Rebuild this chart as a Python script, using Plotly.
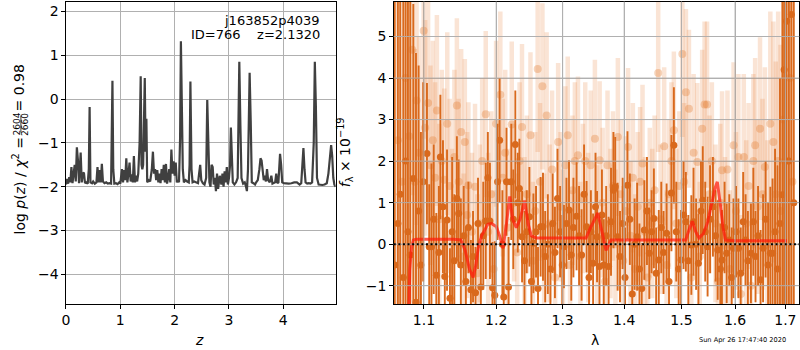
import math
import plotly.graph_objects as go

# ---------------- data: left panel, log p(z) ----------------
z_grid = [0.00, 0.02, 0.04, 0.06, 0.08, 0.10, 0.12, 0.14, 0.16, 0.18, 0.20, 0.22, 0.24, 0.27, 0.29,
          0.31, 0.33, 0.35, 0.37, 0.40, 0.42, 0.435, 0.45, 0.48, 0.50, 0.53, 0.56, 0.58, 0.60, 0.62,
          0.64, 0.66, 0.68, 0.71, 0.74, 0.77, 0.80, 0.83, 0.855, 0.87, 0.89, 0.92, 0.95, 0.98, 1.00,
          1.03, 1.05, 1.07, 1.09, 1.11, 1.13, 1.15, 1.17, 1.19, 1.21, 1.23, 1.25, 1.27, 1.29, 1.31,
          1.33, 1.355, 1.375, 1.39, 1.405, 1.42, 1.45, 1.465, 1.48, 1.495, 1.52, 1.55, 1.58, 1.60, 1.62,
          1.64, 1.66, 1.68, 1.70, 1.72, 1.74, 1.76, 1.78, 1.80, 1.82, 1.84, 1.86, 1.88, 1.90, 1.92,
          1.94, 1.96, 1.98, 2.00, 2.02, 2.04, 2.06, 2.08, 2.10, 2.115, 2.135, 2.15, 2.17, 2.20, 2.23,
          2.26, 2.275, 2.29, 2.31, 2.33, 2.36, 2.40, 2.43, 2.45, 2.47, 2.49, 2.52, 2.55, 2.58, 2.60,
          2.62, 2.64, 2.66, 2.68, 2.70, 2.72, 2.74, 2.76, 2.78, 2.80, 2.83, 2.86, 2.88, 2.90, 2.92,
          2.94, 2.96, 2.98, 3.00, 3.02, 3.035, 3.05, 3.07, 3.10, 3.13, 3.16, 3.19, 3.21, 3.23, 3.26,
          3.29, 3.31, 3.33, 3.35, 3.38, 3.40, 3.42, 3.45, 3.48, 3.50, 3.53, 3.56, 3.58, 3.60, 3.62,
          3.64, 3.66, 3.68, 3.70, 3.72, 3.75, 3.78, 3.80, 3.82, 3.85, 3.87, 3.89, 3.91, 3.94, 3.96,
          3.98, 4.01, 4.05, 4.10, 4.15, 4.20, 4.25, 4.30, 4.33, 4.355, 4.37, 4.39, 4.41, 4.44, 4.47,
          4.50, 4.53, 4.56, 4.58, 4.60, 4.62, 4.65, 4.68, 4.72, 4.76, 4.80, 4.83, 4.86, 4.88, 4.90,
          4.92, 4.94, 4.963]
log_pz = [-1.95, -1.82, -1.93, -1.78, -1.90, -1.55, -1.92, -1.75, -1.50, -1.88, -1.10, -1.40, -1.92, -1.22, -1.90,
          -1.70, -1.68, -1.92, -1.90, -1.93, -1.60, -0.18, -1.90, -1.92, -1.88, -1.93, -1.90, -1.55, -1.90, -1.62,
          -1.90, -1.48, -1.88, -1.92, -1.90, -1.93, -1.92, -1.93, 0.42, -1.60, -1.93, -1.92, -1.94, -1.90, -1.93,
          -1.60, -1.90, -1.62, -1.85, -1.35, -1.90, -1.70, -1.45, -1.88, -1.72, -1.90, -1.30, -1.90, -1.75, -1.88,
          -1.70, -1.00, 0.52, -1.50, -1.60, -1.50, 0.48, -1.20, -0.45, -1.90, -1.85, -1.88, -1.60, -1.20, -1.70,
          -1.60, -1.85, -1.62, -1.90, -1.70, -1.92, -1.60, -1.85, -1.50, -1.90, -1.48, -1.93, -1.80, -1.60, -1.90,
          -1.15, -1.70, -1.42, -1.75, -1.45, -1.90, -1.85, -1.90, -0.90, 1.32, -0.30, -1.60, -1.90, -1.85, -1.88,
          -1.90, -1.50, 0.40, -1.60, -1.90, -1.88, -1.90, -1.92, -1.70, -1.50, -1.85, -1.92, -1.95, -1.80, -0.02,
          -1.30, -1.90, -2.00, -1.50, -1.55, -1.95, -1.80, -2.10, -1.70, -2.05, -1.75, -1.95, -1.70, -2.00, -1.65,
          -1.90, -1.55, -1.95, -1.80, -1.50, -0.65, -1.30, -1.90, -1.95, -1.90, -1.80, 0.85, -0.60, -1.80, -1.93,
          -1.90, -1.98, -2.10, -1.60, 0.60, -0.50, -1.90, -1.92, -1.95, -1.90, -1.85, -1.60, -1.35, -1.40, -1.70,
          -1.85, -1.75, -1.88, -1.60, -1.85, -1.90, -1.75, -1.93, -1.92, -1.90, -1.70, -1.92, -1.90, -1.25, -1.50,
          -1.90, -1.92, -1.93, -1.93, -1.92, -1.90, -1.90, -1.95, -1.92, -1.50, -1.12, -1.60, -1.90, -1.93, -1.92,
          -1.93, -1.90, -1.00, 0.85, -0.20, -1.80, -1.95, -1.96, -1.96, -1.95, -1.92, -1.70, -1.20, -1.05, -1.30,
          -1.80, -1.95, -2.00]

# ---------------- data: right panel, spectrum ----------------
lam_dark = [1.062, 1.066, 1.069, 1.073, 1.076, 1.079, 1.082, 1.086, 1.0895, 1.093,
            1.096, 1.099, 1.104, 1.107, 1.110, 1.113, 1.1165, 1.120, 1.122, 1.1255,
            1.128, 1.131, 1.135, 1.138, 1.141, 1.1445, 1.147, 1.150, 1.154, 1.157,
            1.1605, 1.164, 1.167, 1.1705, 1.174, 1.178, 1.1815, 1.185, 1.188, 1.191,
            1.1947, 1.198, 1.202, 1.205, 1.209, 1.211, 1.215, 1.218, 1.222, 1.225,
            1.228, 1.2316, 1.234, 1.238, 1.2416, 1.245, 1.249, 1.252, 1.255, 1.259,
            1.262, 1.266, 1.2696, 1.273, 1.277, 1.281, 1.2845, 1.288, 1.292, 1.296,
            1.2995, 1.302, 1.306, 1.310, 1.3136, 1.317, 1.322, 1.326, 1.330, 1.334,
            1.338, 1.342, 1.345, 1.3486, 1.3525, 1.355, 1.359, 1.363, 1.366, 1.370,
            1.374, 1.378, 1.382, 1.385, 1.389, 1.393, 1.3975, 1.4015, 1.4056, 1.4096,
            1.4137, 1.4177, 1.422, 1.426, 1.430, 1.4345, 1.439, 1.443, 1.447, 1.451,
            1.455, 1.4596, 1.464, 1.468, 1.4734, 1.4777, 1.482, 1.4864, 1.4907, 1.495,
            1.4994, 1.5038, 1.508, 1.5125, 1.518, 1.522, 1.5267, 1.531, 1.5357, 1.539,
            1.5436, 1.548, 1.5526, 1.558, 1.563, 1.567, 1.572, 1.575, 1.580, 1.584,
            1.589, 1.5936, 1.597, 1.602, 1.6065, 1.611, 1.6158, 1.6205, 1.625, 1.631,
            1.6357, 1.640, 1.645, 1.650, 1.655, 1.660, 1.665, 1.6695, 1.674, 1.679,
            1.684, 1.689, 1.694, 1.6975, 1.7024, 1.7073, 1.7123, 1.7173]
flux_dark = [-0.5, 0.5, 1.2, -0.8, 2.0, 0.3, -0.26, 1.58, -1.4, 0.8,
             -0.5, 1.5, 2.18, -0.06, -0.06, 0.6, -0.75, -0.2, 2.1, 0.9,
             -0.78, 0.58, -1.3, 0.3, -0.4, 1.1, 0.74, -0.5, 0.2, -0.9,
             0.4, -1.1, -0.3, -1.17, 0.5, -1.03, 0.2, 0.56, 1.6, 0.56,
             -1.05, -1.23, 1.5, 2.5, 0.0, -1.27, 1.5, -1.03, 1.5, 0.6,
             2.4, 1.0, 1.34, 0.18, -0.4, 0.3, 0.66, -0.9, 0.02, 0.3,
             -1.07, 0.42, 0.42, -0.3, 0.0, -0.6, 0.5, -0.2, 1.1, 0.3,
             -0.5, -0.06, 0.5, 0.82, -0.26, 0.4, 0.67, 0.2, -0.26, 1.2,
             0.42, -0.8, 0.3, -0.46, 0.9, 0.18, -0.54, 0.7, -0.5, 0.2,
             -0.54, 0.54, 1.3, 1.38, 0.18, -0.3, 0.5, -0.8, 1.42, 0.6,
             -1.2, 0.0, 0.18, -0.6, -1.07, 0.34, 0.8, -0.22, 0.3, 0.62,
             -0.7, -0.38, 0.4, -0.2, 0.26, -0.9, 1.23, 2.38, 0.3, -0.6,
             -0.38, 0.7, 0.54, -0.4, -0.02, 0.54, 0.0, -0.46, 0.8, 1.06,
             0.3, -0.06, 0.6, 0.9, 0.2, -0.14, -0.6, -0.38, 0.4, -0.22,
             0.1, -0.8, -0.1, 0.3, -0.1, -0.7, 0.54, 0.1, -0.4, -0.22,
             0.54, -0.3, 0.2, -0.86, -0.1, 0.6, -0.5, -0.22, -0.22, 0.3,
             -0.6, 0.5, 1.19, 4.2, 5.37, 2.0, 5.53, 1.0]
err_dark = [9, 9, 8, 8, 8, 7, 7, 4.2, 6, 3.5,
            3.2, 2.4, 1.7, 1.5, 2.0, 1.8, 1.5, 1.6, 1.5, 1.6,
            1.4, 1.7, 1.2, 1.8, 1.6, 1.5, 1.3, 1.6, 1.2, 1.3,
            1.1, 1.2, 1.1, 1.1, 1.1, 1.1, 1.3, 1.4, 1.1, 1.4,
            1.1, 1.3, 1.4, 1.5, 1.3, 1.2, 1.3, 1.2, 1.4, 1.2,
            1.3, 1.2, 1.2, 1.1, 1.2, 1.0, 1.2, 1.1, 1.2, 1.1,
            1.0, 1.2, 1.3, 1.1, 1.2, 1.1, 1.2, 1.1, 1.2, 1.1,
            1.2, 1.0, 1.1, 1.2, 1.1, 1.2, 1.3, 1.2, 1.1, 1.2,
            1.1, 1.2, 1.0, 1.2, 1.3, 1.1, 1.2, 1.1, 1.1, 1.2,
            1.2, 1.3, 1.4, 1.2, 1.3, 1.1, 1.1, 1.2, 1.3, 1.1,
            1.2, 1.1, 1.3, 1.1, 1.1, 1.2, 1.3, 1.1, 1.0, 1.2,
            1.1, 1.2, 1.1, 1.0, 1.2, 1.1, 1.4, 1.4, 1.2, 1.2,
            1.2, 1.3, 1.2, 1.1, 1.2, 1.3, 1.1, 1.2, 1.2, 1.3,
            1.2, 1.2, 1.3, 1.2, 1.1, 1.2, 1.1, 1.2, 1.1, 1.2,
            1.1, 1.2, 1.2, 1.1, 1.2, 1.1, 1.2, 1.1, 1.2, 1.2,
            1.3, 1.1, 1.2, 1.2, 1.3, 1.4, 1.5, 1.6, 1.8, 2.0,
            2.5, 3.5, 5, 7, 8, 8, 9, 9]

lam_light = [1.066, 1.0713, 1.076, 1.0806, 1.0846, 1.088, 1.0903, 1.0935, 1.0996, 1.1016,
             1.1055, 1.1086, 1.1118, 1.1149, 1.1173, 1.1206, 1.1239, 1.1272, 1.1313, 1.1346,
             1.1378, 1.1411, 1.1445, 1.147, 1.1504, 1.1538, 1.1555, 1.1588, 1.1605, 1.1655,
             1.1698, 1.1731, 1.1765, 1.1799, 1.185, 1.1885, 1.1929, 1.1964, 1.1999, 1.206,
             1.2096, 1.2131, 1.2166, 1.2227, 1.2262, 1.2307, 1.2343, 1.2379, 1.2416, 1.2452,
             1.2506, 1.2542, 1.2578, 1.2615, 1.2651, 1.2687, 1.2714, 1.2752, 1.2798, 1.2836,
             1.2883, 1.293, 1.2967, 1.3005, 1.3042, 1.308, 1.3117, 1.3155, 1.3193, 1.3242,
             1.3281, 1.332, 1.3359, 1.3407, 1.3447, 1.3515, 1.3554, 1.3593, 1.3642, 1.3681,
             1.3722, 1.3772, 1.3813, 1.3853, 1.3894, 1.3944, 1.3985, 1.4025, 1.4066, 1.4106,
             1.4147, 1.4187, 1.4229, 1.4271, 1.4313, 1.4355, 1.4397, 1.4439, 1.4481, 1.4523,
             1.4586, 1.4628, 1.4691, 1.4734, 1.4777, 1.4821, 1.4864, 1.4907, 1.4962, 1.5016,
             1.5049, 1.5081, 1.5136, 1.5179, 1.5222, 1.5289, 1.5334, 1.5379, 1.5424, 1.547,
             1.5515, 1.556, 1.5628, 1.5673, 1.5718, 1.5752, 1.5808, 1.5855, 1.5901, 1.5972,
             1.6018, 1.6065, 1.6112, 1.617, 1.6217, 1.6264, 1.631, 1.6357, 1.6392, 1.6441,
             1.6489, 1.6538, 1.6586, 1.6635, 1.6695, 1.6756, 1.6805, 1.6853, 1.6902, 1.6963,
             1.7036, 1.7096, 1.7146]
flux_light = [2.5, 1.5, 4.0, 2.6, 4.68, 1.5, 3.46, 2.2, 5.14, 2.8,
              3.4, 1.9, 2.5, 1.6, 3.22, 0.6, 2.0, 1.55, 2.9, 1.4,
              0.2, 2.1, 3.34, 1.5, 2.7, -0.3, 2.46, 0.7, 1.42, 0.3,
              1.38, -0.7, 0.5, 2.0, 3.13, 0.3, 1.2, -0.6, 2.9, 3.6,
              1.6, 2.2, 0.4, 2.88, 1.0, -0.2, 2.0, 2.82, 0.2, 1.2,
              2.62, -0.4, 0.8, 4.22, 1.5, 3.8, -0.2, 3.1, 0.5, 1.8,
              -0.8, 2.46, 0.9, 0.0, 1.9, 2.62, -0.5, 1.3, 2.0, 2.14,
              -0.3, 1.1, 2.0, 0.4, 1.9, 2.54, 0.1, 2.02, 1.0, -0.9,
              1.9, 0.5, 1.4, 0.0, 2.58, 1.2, -0.4, 0.8, 2.34, 0.2,
              1.6, -0.6, 0.9, 1.5, 1.94, 0.3, -0.8, 1.0, 0.5, 1.3,
              4.12, 0.6, 2.36, -0.5, 1.2, 2.0, 2.74, 0.5, 1.4, 4.58,
              1.5, 3.66, 3.26, -0.8, 2.2, 1.98, -0.3, 2.78, 3.36, 3.36,
              1.2, 2.0, 0.5, -0.9, 1.0, 1.78, 0.2, 1.8, -0.6, 2.38,
              0.8, 2.1, -1.2, 2.1, 0.5, 1.4, -1.0, 2.0, 2.38, 0.9,
              2.78, 1.2, 1.86, 0.0, 2.9, 2.46, 1.2, 2.0, 0.8, 3.0,
              2.0, 4.0, 1.5]
err_light = [6, 5, 5, 4, 3.5, 3.2, 3.0, 2.8, 2.6, 2.6,
             2.5, 2.4, 2.4, 2.3, 2.3, 2.3, 2.2, 2.2, 2.2, 2.1,
             2.1, 2.1, 2.1, 2.0, 2.0, 2.0, 2.0, 2.0, 2.0, 1.9,
             2.0, 1.9, 1.9, 2.0, 2.0, 1.9, 2.0, 1.9, 2.0, 2.0,
             1.9, 2.0, 1.9, 2.0, 1.9, 1.9, 1.9, 2.0, 1.9, 1.9,
             2.0, 1.9, 1.9, 2.0, 1.9, 2.0, 1.9, 2.0, 1.9, 1.9,
             1.8, 1.9, 1.8, 1.8, 1.9, 1.9, 1.8, 1.8, 1.9, 1.9,
             1.8, 1.8, 1.9, 1.8, 1.8, 1.9, 1.8, 1.9, 1.8, 1.8,
             1.8, 1.8, 1.8, 1.8, 1.9, 1.8, 1.8, 1.8, 1.9, 1.8,
             1.8, 1.8, 1.8, 1.8, 1.9, 1.8, 1.8, 1.8, 1.8, 1.8,
             1.9, 1.8, 1.9, 1.8, 1.8, 1.9, 1.9, 1.8, 1.8, 2.0,
             1.9, 2.0, 1.9, 1.8, 1.9, 1.9, 1.8, 1.9, 2.0, 2.0,
             1.9, 1.9, 1.9, 1.8, 1.9, 1.9, 1.9, 1.9, 1.9, 2.0,
             1.9, 2.0, 1.9, 2.0, 2.0, 2.0, 2.0, 2.1, 2.1, 2.1,
             2.2, 2.3, 2.4, 2.5, 2.7, 2.9, 3.2, 3.6, 4.0, 5.0,
             6.0, 7.0, 8.0]

lam_model = [1.0790, 1.0800, 1.0815, 1.0835, 1.0861, 1.0900, 1.1000, 1.1200, 1.1400, 1.1500,
             1.1560, 1.1620, 1.1672, 1.1710, 1.1742, 1.1790, 1.1836, 1.1880, 1.1931, 1.2003,
             1.2050, 1.2100, 1.2150, 1.2197, 1.2240, 1.2295, 1.2350, 1.2418, 1.2470, 1.2518,
             1.2594, 1.2800, 1.3000, 1.3200, 1.3373, 1.3430, 1.3480, 1.3562, 1.3630, 1.3697,
             1.3780, 1.4000, 1.4400, 1.4800, 1.5078, 1.5140, 1.5199, 1.5260, 1.5320, 1.5400,
             1.5475, 1.5560, 1.5620, 1.5662, 1.5700, 1.5725, 1.5770, 1.5819, 1.6000, 1.6500,
             1.7034]
flux_model = [-2.5, -1.5, -0.6, -0.1, 0.1, 0.12, 0.12, 0.12, 0.12, 0.1,
              -0.15, -0.6, -0.8, -0.5, -0.1, 0.2, 0.35, 0.48, 0.5, 0.42,
              0.2, -0.1, 0.5, 1.15, 0.6, 0.4, 0.6, 1.05, 0.5, 0.2,
              0.15, 0.15, 0.14, 0.15, 0.15, 0.35, 0.5, 0.75, 0.3, -0.15,
              0.1, 0.1, 0.1, 0.1, 0.1, 0.35, 0.55, 0.3, 0.15, 0.25,
              0.5, 1.0, 1.35, 1.5, 1.2, 0.9, 0.4, 0.1, 0.08, 0.08,
              0.08]

z_ticks = [0, 1, 2, 3, 4]
logp_ticks = [-4, -3, -2, -1, 0, 1, 2]
lam_ticks = [1.1, 1.2, 1.3, 1.4, 1.5, 1.6, 1.7]
lam_tick_text = ["1.1", "1.2", "1.3", "1.4", "1.5", "1.6", "1.7"]
flux_ticks = [-1, 0, 1, 2, 3, 4, 5]

title_line1 = "j163852p4039"
title_line2 = "ID=766\u00a0\u00a0\u00a0\u00a0z=2.1320"
timestamp = "Sun Apr 26 17:47:40 2020"

# ---------------- figure ----------------
W, H = 800, 350
FONT = "DejaVu Sans"


def px(xp):
    return xp / W


def py(yp):
    return 1 - yp / H


dark_col = "#d9691c"
fig = go.Figure()

fig.add_trace(go.Scatter(x=z_grid, y=log_pz, mode="lines",
                         line=dict(color="#404040", width=2.2),
                         xaxis="x", yaxis="y", showlegend=False, hoverinfo="skip"))

fig.add_trace(go.Scatter(x=lam_light, y=flux_light, mode="markers",
                         marker=dict(size=8, color="rgba(228,120,45,0.32)"),
                         error_y=dict(type="data", array=err_light, visible=True,
                                      thickness=4.5, width=0, color="rgba(228,120,45,0.2)"),
                         xaxis="x2", yaxis="y2", showlegend=False, hoverinfo="skip"))

fig.add_trace(go.Scatter(x=lam_dark, y=flux_dark, mode="markers",
                         marker=dict(size=7, color=dark_col),
                         error_y=dict(type="data", array=err_dark, visible=True,
                                      thickness=1.9, width=0, color=dark_col),
                         xaxis="x2", yaxis="y2", showlegend=False, hoverinfo="skip"))

fig.add_trace(go.Scatter(x=lam_model, y=flux_model, mode="lines",
                         line=dict(color="rgba(255,25,10,0.72)", width=3),
                         xaxis="x2", yaxis="y2", showlegend=False, hoverinfo="skip"))

common = dict(showline=True, mirror=True, linecolor="black", linewidth=1,
              ticks="outside", ticklen=3.5, tickwidth=1, tickcolor="black",
              showgrid=True, gridcolor="#b0b0b0", gridwidth=1, zeroline=False,
              tickfont=dict(family=FONT, size=14, color="black"))

ydom = [py(304), py(1.5)]
fig.update_layout(
    width=W, height=H, margin=dict(l=0, r=0, t=0, b=0),
    paper_bgcolor="white", plot_bgcolor="white", showlegend=False,
    font=dict(family=FONT, size=14, color="black"),
    xaxis=dict(domain=[px(62.3), px(333.3)], range=[0, 4.963], tickvals=z_ticks,
               anchor="y", **common),
    yaxis=dict(domain=ydom, range=[-4.677, 2.228], tickvals=logp_ticks,
               anchor="x", **common),
    xaxis2=dict(domain=[px(391.7), px(799.3)], type="log",
                range=[math.log10(1.0607), math.log10(1.7288)],
                tickvals=lam_ticks, ticktext=lam_tick_text, anchor="y2", **common),
    yaxis2=dict(domain=ydom, range=[-1.441, 5.843], tickvals=flux_ticks,
                anchor="x2", **common),
)

# grid drawn over the data in the spectrum panel (as in the reference)
for t in lam_ticks:
    fig.add_shape(type="line", xref="x2", yref="y2 domain", x0=t, x1=t, y0=0, y1=1,
                  line=dict(color="rgba(176,176,176,0.9)", width=1), layer="above")
for t in flux_ticks:
    fig.add_shape(type="line", xref="x2 domain", yref="y2", x0=0, x1=1, y0=t, y1=t,
                  line=dict(color="rgba(176,176,176,0.9)", width=1), layer="above")

# zero reference line
fig.add_shape(type="line", xref="x2 domain", yref="y2", x0=0, x1=1, y0=0, y1=0,
              line=dict(color="black", width=2, dash="2px,2.6px"), layer="above")

ann = []
ann.append(dict(text=title_line1, x=px(319), y=py(20), xanchor="right", yanchor="middle",
                font=dict(family=FONT, size=13, color="black"), borderpad=0))
ann.append(dict(text=title_line2, x=px(319), y=py(35), xanchor="right", yanchor="middle",
                font=dict(family=FONT, size=13, color="black"), borderpad=0))
ann.append(dict(text="<i>z</i>", x=px(196.5), y=py(340), xanchor="center", yanchor="middle"))
ann.append(dict(text="λ", x=px(594), y=py(340), xanchor="center", yanchor="middle"))
ann.append(dict(text=timestamp, x=px(742), y=py(340), xanchor="center", yanchor="middle",
                font=dict(family=FONT, size=6.6, color="black")))
# left y label (rotated), built from pieces to show the stacked fraction
ann.append(dict(text="log <i>p</i>(<i>z</i>) / <i>χ</i><sup>2</sup> =", x=px(15), y=py(136),
                xanchor="center", yanchor="top", textangle=-90, borderpad=0))
ann.append(dict(text="2604", x=px(12.6), y=py(124), xanchor="center", yanchor="middle",
                textangle=-90, font=dict(family=FONT, size=9, color="black"), borderpad=0))
ann.append(dict(text="2660", x=px(21.0), y=py(124), xanchor="center", yanchor="middle",
                textangle=-90, font=dict(family=FONT, size=9, color="black"), borderpad=0))
ann.append(dict(text="= 0.98", x=px(15), y=py(112), xanchor="center", yanchor="bottom",
                textangle=-90, borderpad=0))
# right y label
ann.append(dict(text="<i>f</i><sub>λ</sub> × 10<sup>−19</sup>", x=px(343), y=py(152),
                xanchor="center", yanchor="middle", textangle=-90))

for a in ann:
    a.setdefault("font", dict(family=FONT, size=14, color="black"))
    a.update(xref="paper", yref="paper", showarrow=False)
fig.update_layout(annotations=ann)

# fraction bar
fig.add_shape(type="line", xref="paper", yref="paper", x0=px(17.0), x1=px(17.0),
              y0=py(115.5), y1=py(132.5), line=dict(color="black", width=0.8))

fig.write_html("out.html", config={"displayModeBar": False})

# remove the default page margin so the 800x350 figure fills the window exactly
with open("out.html", "r", encoding="utf-8") as fh:
    html = fh.read()
html = html.replace("<head>", "<head><style>html,body{margin:0;padding:0;overflow:hidden;}</style>", 1)
with open("out.html", "w", encoding="utf-8") as fh:
    fh.write(html)
